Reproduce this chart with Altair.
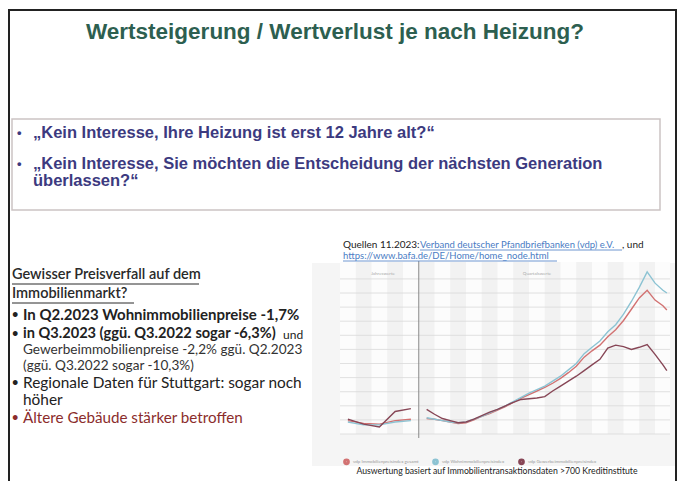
import altair as alt
import pandas as pd

# ---------------- data ----------------
series_names = ["vdp Immobilienpreisindex gesamt",
                "vdp Wohnimmobilienpreisindex",
                "vdp Gewerbeimmobilienpreisindex"]
series_colors = ["#d27272", "#8cc3d3", "#874656"]

annual_years = [2003, 2004, 2005, 2006, 2007]
annual_gesamt = [99.5, 97.5, 97.0, 99.5, 100.5]
annual_wohnen = [98.5, 96.5, 96.5, 98.5, 99.5]
annual_gewerbe = [100.5, 97.0, 95.0, 106.0, 108.0]

period_years = [2008.0, 2008.5, 2009.0, 2009.5, 2010.0, 2010.5, 2011.0, 2011.5,
                2012.0, 2012.5, 2013.0, 2013.5, 2014.0, 2014.5, 2015.0, 2015.5,
                2016.0, 2016.5, 2017.0, 2017.5, 2018.0, 2018.5, 2019.0, 2019.5,
                2020.0, 2020.5, 2021.0, 2021.5, 2022.0, 2022.5, 2023.0, 2023.25]
period_gesamt = [101.0, 100.5, 99.5, 98.5, 97.5, 98.0, 100.0, 102.5,
                 104.5, 107.0, 109.5, 112.5, 115.5, 118.0, 120.5, 123.0,
                 126.0, 129.5, 133.5, 138.0, 144.5, 149.0, 153.0, 159.0,
                 164.0, 170.5, 178.5, 186.5, 192.0, 185.0, 181.0, 178.0]
period_wohnen = [101.5, 100.5, 99.5, 98.5, 98.0, 98.5, 100.5, 102.5,
                 105.0, 107.5, 110.0, 113.0, 116.0, 119.0, 121.5, 124.0,
                 127.5, 131.0, 135.5, 140.0, 147.0, 151.5, 156.0, 162.5,
                 167.5, 175.0, 184.0, 194.0, 205.0, 197.0, 192.0, 190.0]
period_gewerbe = [107.5, 104.0, 101.0, 99.5, 98.0, 98.5, 100.5, 103.0,
                  105.5, 107.5, 110.0, 112.5, 114.5, 115.0, 115.5, 116.5,
                  120.5, 124.0, 127.5, 131.0, 135.0, 139.0, 143.0, 151.0,
                  153.0, 152.0, 150.0, 151.5, 153.5, 146.5, 139.0, 135.0]

x_tick_years = [2003, 2004, 2005, 2006, 2007, 2008, 2009, 2010, 2011, 2012, 2013,
                2014, 2015, 2016, 2017, 2018, 2019, 2020, 2021, 2022, 2023]
y_tick_values = [90, 100, 110, 120, 130, 140, 150, 160, 170, 180, 190, 200]
break_year = [2007.5]
section_labels = ["Jahreswerte", "Quartalswerte"]

title_text = "Wertsteigerung / Wertverlust je nach Heizung?"
box_lines = ["„Kein Interesse, Ihre Heizung ist erst 12 Jahre alt?“",
             "„Kein Interesse, Sie möchten die Entscheidung der nächsten Generation",
             "überlassen?“"]
heading_lines = ["Gewisser Preisverfall auf dem", "Immobilienmarkt?"]
bullet_bold = ["In Q2.2023 Wohnimmobilienpreise -1,7%",
               "in Q3.2023 (ggü. Q3.2022 sogar -6,3%)"]
small_lines = ["Gewerbeimmobilienpreise -2,2% ggü. Q2.2023", "(ggü. Q3.2022 sogar -10,3%)"]
regional_lines = ["Regionale Daten für Stuttgart: sogar noch", "höher"]
red_line = "Ältere Gebäude stärker betroffen"
source_label = "Quellen 11.2023:"
source_link1 = "Verband deutscher Pfandbriefbanken (vdp) e.V."
source_link2 = "https://www.bafa.de/DE/Home/home_node.html"
caption_text = "Auswertung basiert auf Immobilientransaktionsdaten >700 Kreditinstitute"

# ---------------- tables ----------------
rows = []
for name, ann, per in [(series_names[0], annual_gesamt, period_gesamt),
                       (series_names[1], annual_wohnen, period_wohnen),
                       (series_names[2], annual_gewerbe, period_gewerbe)]:
    for y, v in zip(annual_years, ann):
        rows.append({"year": y, "value": v, "series": name, "segment": "a"})
    for y, v in zip(period_years, per):
        rows.append({"year": y, "value": v, "series": name, "segment": "q"})
df = pd.DataFrame(rows)

bands = pd.DataFrame({"b0": [y - 0.5 for i, y in enumerate(x_tick_years) if i % 2 == 1],
                      "b1": [y + 0.5 for i, y in enumerate(x_tick_years) if i % 2 == 1]})
grid = pd.DataFrame({"v": y_tick_values})
brk = pd.DataFrame({"year": break_year})

# ---------------- layout ----------------
W, H = 330, 172
X0, Y0 = 340, 262          # page position of the plot area
PAD_L, PAD_T = X0 - 8, Y0 - 8
CW, CH = 669, 473

xs = alt.Scale(domain=[2002.5, 2023.45], nice=False, zero=False)
ys = alt.Scale(domain=[90, 212], nice=False, zero=False)

one = pd.DataFrame({"k": [0]})


def txt(s, x, y, size, color, weight="normal", font="Lato", align="left",
        baseline="middle"):
    return alt.Chart(pd.DataFrame({"t": [s]})).mark_text(
        align=align, baseline=baseline, fontSize=size, font=font,
        fontWeight=weight, color=color
    ).encode(text="t:N", x=alt.value(x - X0), y=alt.value(y - Y0))


def box(x1, y1, x2, y2, fill=None, stroke=None, sw=1):
    kw = {}
    if fill is not None:
        kw["fill"] = fill
    else:
        kw["fillOpacity"] = 0
    if stroke is not None:
        kw["stroke"] = stroke
        kw["strokeWidth"] = sw
    return alt.Chart(one).mark_rect(**kw).encode(
        x=alt.value(x1 - X0), x2=alt.value(x2 - X0),
        y=alt.value(y1 - Y0), y2=alt.value(y2 - Y0))


def hline(x1, x2, y, color, sw=1):
    return alt.Chart(one).mark_rule(color=color, strokeWidth=sw).encode(
        x=alt.value(x1 - X0), x2=alt.value(x2 - X0), y=alt.value(y - Y0))


def vline(x, y1, y2, color, sw=1):
    return alt.Chart(one).mark_rule(color=color, strokeWidth=sw).encode(
        x=alt.value(x - X0), y=alt.value(y1 - Y0), y2=alt.value(y2 - Y0))


layers = []
# chart panel and plot background
layers.append(box(312, 263, 676, 466, fill="#f5f5f5"))
layers.append(box(X0, Y0, X0 + W, Y0 + H, fill="#fcfcfc"))
layers.append(alt.Chart(bands).mark_rect(fill="#f2f2f2").encode(
    x=alt.X("b0:Q", scale=xs, axis=None), x2="b1:Q",
    y=alt.value(0), y2=alt.value(H)))
layers.append(alt.Chart(grid).mark_rule(color="#d9d9d9", strokeWidth=0.8).encode(
    y=alt.Y("v:Q", scale=ys, axis=None), x=alt.value(0), x2=alt.value(W)))
layers.append(alt.Chart(brk).mark_rule(color="#8a8a8a", strokeWidth=1).encode(
    x=alt.X("year:Q", scale=xs, axis=None), y=alt.value(-1), y2=alt.value(H + 4)))

lines = alt.Chart(df).mark_line(strokeWidth=1.4).encode(
    x=alt.X("year:Q", scale=xs, title=None,
            axis=alt.Axis(values=x_tick_years, format="d", labelFontSize=5,
                          labelColor="#9a9a9a", ticks=False, domain=False,
                          grid=False, labelPadding=11, labelFont="Lato")),
    y=alt.Y("value:Q", scale=ys, title=None,
            axis=alt.Axis(values=y_tick_values, labelFontSize=5,
                          labelColor="#9a9a9a", ticks=False, domain=False,
                          grid=False, labelPadding=4, labelFont="Lato")),
    color=alt.Color("series:N",
                    scale=alt.Scale(domain=series_names, range=series_colors),
                    legend=alt.Legend(orient="none", legendX=3, legendY=196,
                                      direction="horizontal", title=None,
                                      labelFontSize=4.5, labelColor="#9a9a9a",
                                      labelFont="Lato", symbolType="circle",
                                      symbolSize=14, symbolStrokeWidth=3,
                                      columnPadding=8, labelOffset=3)),
    detail="segment:N",
    order="year:Q",
)
layers.append(lines)

# section labels inside chart
layers.append(txt(section_labels[0], 383, 274, 4.5, "#aaaaaa", align="center"))
layers.append(txt(section_labels[1], 537, 274, 4.5, "#aaaaaa", align="center"))

# slide frame
layers.append(hline(8, 677, 10, "#222222", 2))
layers.append(vline(9, 10, 481, "#222222", 2))
layers.append(vline(676, 10, 481, "#222222", 2))

# title
layers.append(txt(title_text, 335, 31.5, 22.5, "#2d5f50", weight="bold",
                  font="Liberation Sans", align="center"))

# bullet box
layers.append(box(12, 119, 660, 210, stroke="#cbc3c3", sw=1.5))
navy = "#3c3a7f"
layers.append(txt("•", 17, 133, 13, navy, weight="bold", font="Liberation Sans"))
layers.append(txt(box_lines[0], 33, 133, 16.5, navy, weight="bold", font="Liberation Sans"))
layers.append(txt("•", 17, 164, 13, navy, weight="bold", font="Liberation Sans"))
layers.append(txt(box_lines[1], 33, 164, 16.5, navy, weight="bold", font="Liberation Sans"))
layers.append(txt(box_lines[2], 33, 181, 16.5, navy, weight="bold", font="Liberation Sans"))

# left text block
dark = "#222222"
layers.append(txt(heading_lines[0], 12, 275, 14.5, "#2a2a2a", weight=600))
layers.append(hline(12, 199, 284, "#2a2a2a", 1))
layers.append(txt(heading_lines[1], 12, 294, 14.5, "#2a2a2a", weight=600))
layers.append(hline(12, 134, 303, "#2a2a2a", 1))
layers.append(txt("•", 12, 315, 11, dark, weight="bold"))
layers.append(txt(bullet_bold[0], 23, 315, 15.0, dark, weight="bold"))
layers.append(txt("•", 12, 334, 11, dark, weight="bold"))
layers.append(txt(bullet_bold[1], 23, 334, 14.6, dark, weight="bold"))
layers.append(txt("und", 283, 335, 12, dark))
layers.append(txt(small_lines[0], 23, 350, 13.6, "#333333"))
layers.append(txt(small_lines[1], 23, 366, 13.6, "#333333"))
layers.append(txt("•", 12, 383, 11, dark, weight="bold"))
layers.append(txt(regional_lines[0], 23, 383, 15.4, dark))
layers.append(txt(regional_lines[1], 23, 400, 15.4, dark))
layers.append(txt("•", 12, 418, 11, "#8b2c2c", weight="bold"))
layers.append(txt(red_line, 23, 418, 15.2, "#8b2c2c"))

# sources above the chart
link = "#4a7cc4"
layers.append(txt(source_label, 343, 245, 10, dark))
layers.append(txt(source_link1, 420, 245, 9.5, link))
layers.append(hline(420, 622, 250, link, 0.8))
layers.append(txt(", und", 622, 245, 10, dark))
layers.append(txt(source_link2, 343, 256, 9.5, link))
layers.append(hline(343, 557, 261, link, 0.8))

# caption
layers.append(txt(caption_text, 497, 471, 8.7, dark, align="center"))

chart = alt.layer(*layers).properties(
    width=W, height=H,
    padding={"left": PAD_L, "top": PAD_T, "right": CW - PAD_L - W,
             "bottom": CH - PAD_T - H},
    autosize=alt.AutoSizeParams(type="none"),
    background="white",
).configure_view(stroke=None)

chart.save("out.html", embed_options={"renderer": "svg", "actions": False})
